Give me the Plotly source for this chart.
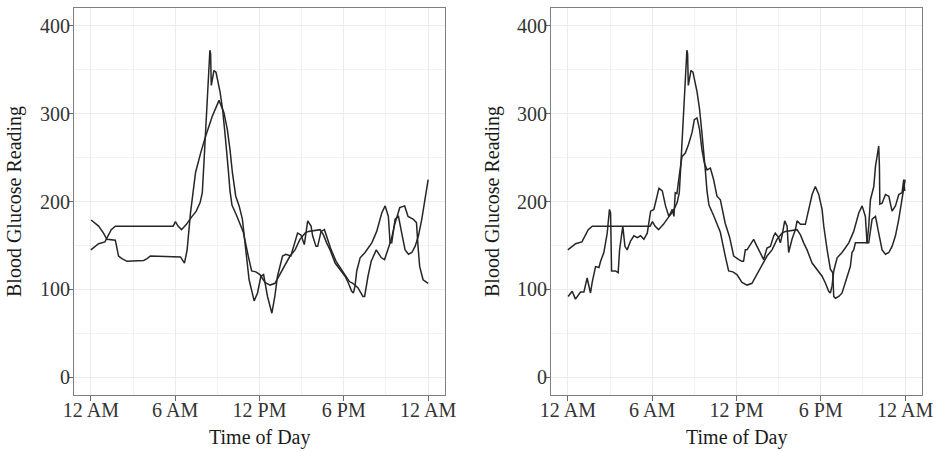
import plotly.graph_objects as go

# ---- Data (hours since midnight, blood glucose) ----
# Series shown in both panels
hours_a = [0.0, 0.55, 1.0, 1.45, 1.74, 5.85, 6.02, 6.2, 6.45, 6.8, 7.15, 7.5, 7.78, 7.93, 8.05,
           8.2, 8.36, 8.47, 8.52, 8.57, 8.76, 8.9, 9.19, 9.37, 9.54, 9.66, 9.78, 9.9, 10.04,
           10.37, 10.85, 11.2, 11.44, 11.74, 12.03, 12.39, 12.75, 13.1, 13.46, 13.82, 14.17,
           14.53, 14.88, 15.24, 15.48, 16.31, 16.55, 16.78, 17.02, 17.38, 17.73, 18.09, 18.33,
           18.56, 18.68, 18.8, 18.92, 19.16, 19.51, 19.99, 20.34, 20.7, 20.94, 21.17, 21.29,
           21.41, 21.65, 21.89, 22.12, 22.36, 22.6, 22.84, 23.07, 23.31, 23.55, 23.78, 24.0]
glucose_a = [145, 152, 154, 168, 172, 172, 177, 172, 168, 174, 182, 189, 199, 210, 245,
             292, 343, 372, 368, 332, 349, 347, 325, 305, 278, 252, 236, 212, 196,
             184, 165, 138, 121, 120, 117, 108, 105, 107, 117, 128, 138,
             145, 157, 164, 166, 168, 162, 153, 145, 130, 123, 115, 107,
             98, 96, 104, 121, 136, 142, 153, 166, 187, 195, 183, 153,
             153, 180, 183, 164, 145, 140, 142, 149, 161, 180, 202, 225]

# Second series, left panel
hours_left_b = [0.02, 0.55, 0.9, 1.14, 1.74, 1.85, 1.97, 2.21, 2.57, 3.76, 4.0, 4.24, 6.38, 6.66,
                6.85, 7.09, 7.45, 7.81, 8.16, 8.64, 9.12, 9.47, 9.71, 9.9, 10.07, 10.31, 10.55,
                10.78, 11.02, 11.26, 11.62, 11.86, 12.1, 12.29, 12.57, 12.88, 13.09, 13.28,
                13.64, 13.88, 14.23, 14.47, 14.71, 14.95, 15.19, 15.43, 15.67, 15.78, 16.02,
                16.14, 16.38, 16.62, 16.86, 17.1, 17.45, 17.81, 18.17, 18.4, 18.64, 19.0, 19.36,
                19.48, 19.72, 19.95, 20.31, 20.67, 20.9, 21.14, 21.38, 21.62, 21.86, 21.98,
                22.33, 22.57, 22.93, 23.17, 23.28, 23.4, 23.64, 24.0]
glucose_left_b = [179, 172, 164, 157, 156, 149, 138, 135, 132, 133, 135, 138, 137, 130,
                  145, 187, 233, 255, 274, 297, 315, 301, 282, 259, 233, 206, 195,
                  180, 146, 111, 87, 96, 115, 117, 92, 73, 92, 115,
                  138, 140, 138, 150, 164, 162, 151, 178, 172, 161, 149,
                  149, 166, 168, 157, 145, 132, 123, 115, 109, 107, 102, 92,
                  92, 115, 132, 145, 136, 134, 145, 157, 174, 187, 193,
                  195, 183, 180, 176, 149, 126, 111, 107]

# Second series, right panel
hours_right_b = [0.02, 0.31, 0.54, 0.9, 1.14, 1.37, 1.61, 1.73, 1.97, 2.21, 2.33, 2.56, 2.8, 2.96,
                 3.04, 3.11, 3.39, 3.58, 3.68, 3.91, 4.06, 4.22, 4.46, 4.7, 4.94, 5.17, 5.41,
                 5.65, 5.89, 6.12, 6.48, 6.72, 6.95, 7.19, 7.43, 7.55, 7.64, 7.76, 7.95, 8.12,
                 8.36, 8.59, 8.83, 9.0, 9.19, 9.37, 9.54, 9.71, 9.9, 10.14, 10.37, 10.61, 10.85,
                 11.2, 11.5, 11.8, 12.17, 12.39, 12.5, 12.63, 12.75, 12.98, 13.22, 13.46, 13.7,
                 13.93, 14.17, 14.41, 14.65, 14.76, 15.0, 15.12, 15.24, 15.43, 15.6, 15.71,
                 15.95, 16.19, 16.31, 16.55, 16.9, 17.14, 17.38, 17.61, 17.85, 18.09, 18.21,
                 18.45, 18.68, 18.85, 18.92, 19.04, 19.28, 19.51, 19.63, 19.87, 20.1, 20.22,
                 20.34, 20.46, 21.29, 21.41, 21.53, 21.77, 21.89, 22.12, 22.17, 22.2, 22.36,
                 22.6, 22.84, 23.07, 23.31, 23.55, 23.78, 23.9, 23.97]
glucose_right_b = [92, 98, 89, 97, 97, 113, 96, 108, 126, 125, 132, 142, 164, 191,
                   187, 121, 121, 119, 145, 172, 149, 145, 155, 161, 159, 161, 157,
                   164, 189, 191, 215, 212, 195, 183, 191, 183, 210, 209, 232, 251,
                   255, 265, 278, 293, 295, 282, 259, 244, 236, 238, 225, 206, 202,
                   175, 160, 138, 134, 132, 132, 145, 145, 151, 157, 149, 142,
                   134, 147, 149, 161, 164, 159, 153, 161, 178, 172, 142,
                   157, 168, 178, 174, 174, 191, 208, 217, 208, 191, 172,
                   145, 123, 119, 92, 90, 92, 96, 102, 115, 126, 142,
                   145, 153, 153, 172, 202, 217, 240, 263, 240, 197, 198,
                   208, 206, 189, 195, 208, 210, 225, 212]

x_tickvals = [0, 6, 12, 18, 24]
x_ticktext = ["12 AM", "6 AM", "12 PM", "6 PM", "12 AM"]
y_tickvals = [0, 100, 200, 300, 400]

# ---- Figure ----
W, H = 938, 452
line_style = dict(color="#262626", width=1.5)
fig = go.Figure()
fig.add_trace(go.Scatter(x=hours_a, y=glucose_a, mode="lines", line=line_style,
                         xaxis="x", yaxis="y", showlegend=False))
fig.add_trace(go.Scatter(x=hours_left_b, y=glucose_left_b, mode="lines", line=line_style,
                         xaxis="x", yaxis="y", showlegend=False))
fig.add_trace(go.Scatter(x=hours_a, y=glucose_a, mode="lines", line=line_style,
                         xaxis="x2", yaxis="y2", showlegend=False))
fig.add_trace(go.Scatter(x=hours_right_b, y=glucose_right_b, mode="lines", line=line_style,
                         xaxis="x2", yaxis="y2", showlegend=False))

font_family = "Liberation Serif, Times New Roman, serif"
tick_font = dict(family=font_family, size=20, color="#333333")

def xaxis(domain, anchor):
    return dict(domain=domain, anchor=anchor, range=[-1.2, 25.2],
                tickvals=x_tickvals, ticktext=x_ticktext, ticks="outside", ticklen=5,
                tickcolor="#666666", tickwidth=1, tickfont=tick_font, ticklabelstandoff=-8,
                showgrid=True, gridcolor="#ebebeb", gridwidth=1.1,
                minor=dict(tickvals=[3, 9, 15, 21], showgrid=True, gridcolor="#f2f2f2", gridwidth=0.6),
                showline=True, linecolor="#7f7f7f", linewidth=1, mirror=True,
                zeroline=False, automargin=False)

def yaxis(domain, anchor):
    return dict(domain=domain, anchor=anchor, range=[-20, 420],
                tickvals=y_tickvals, ticks="outside", ticklen=5,
                tickcolor="#666666", tickwidth=1, tickfont=tick_font, ticklabelstandoff=-6,
                showgrid=True, gridcolor="#ebebeb", gridwidth=1.1,
                minor=dict(tickvals=[50, 150, 250, 350], showgrid=True, gridcolor="#f2f2f2", gridwidth=0.6),
                showline=True, linecolor="#7f7f7f", linewidth=1, mirror=True,
                zeroline=False, automargin=False)

ydom = [1 - 395 / H, 1 - 8 / H]
fig.update_layout(
    width=W, height=H,
    margin=dict(l=0, r=0, t=0, b=0),
    paper_bgcolor="white", plot_bgcolor="white",
    font=dict(family=font_family, color="#1a1a1a"),
    xaxis=xaxis([74 / W, 445 / W], "y"),
    yaxis=yaxis(ydom, "x"),
    xaxis2=xaxis([551 / W, 922 / W], "y2"),
    yaxis2=yaxis(ydom, "x2"),
)

title_font = dict(family=font_family, size=20, color="#1a1a1a")
for xc in [(74 + 445) / 2, (551 + 922) / 2]:
    fig.add_annotation(text="Time of Day", x=xc / W, y=1 - 437 / H, xref="paper", yref="paper",
                       showarrow=False, font=title_font, xanchor="center", yanchor="middle")
for xc in [15, 493]:
    fig.add_annotation(text="Blood Glucose Reading", x=xc / W, y=1 - 202 / H, xref="paper",
                       yref="paper", showarrow=False, font=title_font, textangle=-90,
                       xanchor="center", yanchor="middle")

fig.write_html("out.html", config={"displayModeBar": False},
               post_script="document.body.style.margin='0px';")
